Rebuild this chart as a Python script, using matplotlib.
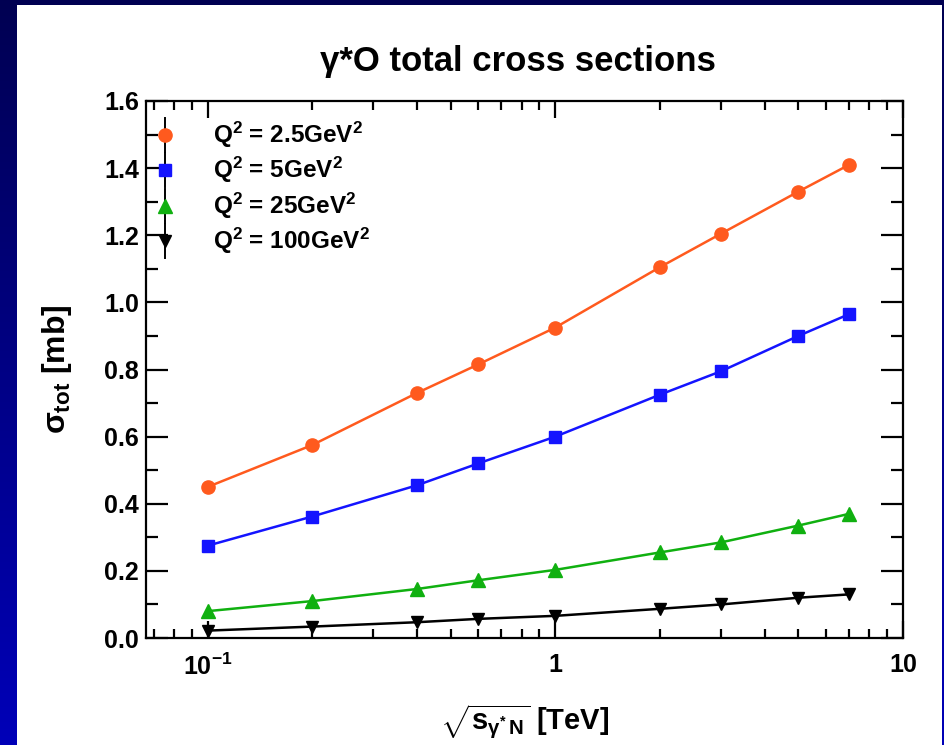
import numpy as np
import matplotlib
matplotlib.use("Agg")
import matplotlib.pyplot as plt
from matplotlib.ticker import FixedLocator, LogLocator, MultipleLocator, FuncFormatter, NullFormatter
from matplotlib.patches import Rectangle
from matplotlib.colors import LinearSegmentedColormap

plt.rcParams['font.family'] = ['Liberation Sans', 'DejaVu Sans']
plt.rcParams['mathtext.fontset'] = 'custom'
plt.rcParams['mathtext.rm'] = 'Liberation Sans:bold'
plt.rcParams['mathtext.it'] = 'Liberation Sans:bold'
plt.rcParams['mathtext.bf'] = 'Liberation Sans:bold'
plt.rcParams['mathtext.sf'] = 'Liberation Sans:bold'

# Centre-of-mass energies sqrt(s) [TeV]
sqrt_s = [0.1, 0.2, 0.4, 0.6, 1.0, 2.0, 3.0, 5.0, 7.0]

# Total cross sections [mb] for each virtuality
sigma_q2_2p5 = [0.450, 0.575, 0.730, 0.815, 0.925, 1.105, 1.205, 1.330, 1.410]
sigma_q2_5 = [0.275, 0.362, 0.455, 0.520, 0.600, 0.725, 0.795, 0.900, 0.965]
sigma_q2_25 = [0.080, 0.110, 0.146, 0.172, 0.203, 0.255, 0.285, 0.335, 0.370]
sigma_q2_100 = [0.022, 0.034, 0.047, 0.057, 0.066, 0.087, 0.100, 0.120, 0.130]

labels = [r"Q$^{2}$ = 2.5GeV$^{2}$", r"Q$^{2}$ = 5GeV$^{2}$",
          r"Q$^{2}$ = 25GeV$^{2}$", r"Q$^{2}$ = 100GeV$^{2}$"]
colors = ["#ff5a1e", "#1414ff", "#10b010", "#000000"]
markers = ["o", "s", "^", "v"]
msizes = [9.5, 9, 9.5, 9]
series = [sigma_q2_2p5, sigma_q2_5, sigma_q2_25, sigma_q2_100]

fig = plt.figure(figsize=(9.44, 7.45), dpi=100)

# slide background: blue vertical gradient with a white panel
bg = fig.add_axes([0, 0, 1, 1], zorder=-10)
grad = np.linspace(0, 1, 256).reshape(-1, 1)
cmap = LinearSegmentedColormap.from_list("slide", ["#000052", "#0000b8"])
bg.imshow(grad, aspect="auto", cmap=cmap, extent=[0, 1, 0, 1], origin="upper")
bg.add_patch(Rectangle((17 / 944, 0), (942 - 17) / 944, 740 / 745,
                       facecolor="white", edgecolor="none"))
bg.set_xlim(0, 1)
bg.set_ylim(0, 1)
bg.axis("off")

ax = fig.add_axes([146 / 944, 107 / 745, (903 - 146) / 944, (638 - 101) / 745])
ax.set_xscale("log")
ax.set_xlim(0.0665, 10)
ax.set_ylim(0, 1.6)

for ys, c, m, ms in zip(series, colors, markers, msizes):
    ax.plot(sqrt_s, ys, color=c, lw=1.8, marker=m, ms=ms, mec=c, mfc=c, zorder=3)

ax.xaxis.set_major_locator(FixedLocator([0.1, 1, 10]))
ax.xaxis.set_minor_locator(LogLocator(base=10, subs=np.arange(2, 10)))
ax.xaxis.set_minor_formatter(NullFormatter())

def xfmt(v, pos):
    if abs(v - 0.1) < 1e-9:
        return r"10$^{-1}$"
    if abs(v - 1) < 1e-9:
        return "1"
    return "10"

ax.xaxis.set_major_formatter(FuncFormatter(xfmt))
ax.yaxis.set_major_locator(MultipleLocator(0.2))
ax.yaxis.set_minor_locator(MultipleLocator(0.1))
ax.yaxis.set_major_formatter(FuncFormatter(lambda v, p: f"{v:.1f}"))

ax.tick_params(which="both", direction="in", top=True, right=True, width=1.6, colors="black")
ax.tick_params(which="major", labelsize=18)
ax.tick_params(axis="x", which="major", length=12, pad=11)
ax.tick_params(axis="x", which="minor", length=6.5)
ax.tick_params(axis="y", which="major", length=16, pad=5)
ax.tick_params(axis="y", which="minor", length=8.5)
for lbl in ax.get_xticklabels() + ax.get_yticklabels():
    lbl.set_fontweight("bold")
for sp in ax.spines.values():
    sp.set_linewidth(1.6)

ax.set_ylabel(r"$\sigma_{tot}$ [mb]", fontsize=23, fontweight="bold", labelpad=22)
ax.set_xlabel(r"$\sqrt{s_{\gamma^{*}\,N}}$ [TeV]", fontsize=21, fontweight="bold", labelpad=16)

fig.text(0.549, 0.917, "γ*O total cross sections", ha="center", va="center",
         fontsize=25, fontweight="bold")

# legend: marker with a vertical bar, followed by the label
lx, ly0, dy = 0.025, 0.937, 0.066
for i, (c, m, ms, lab) in enumerate(zip(colors, markers, msizes, labels)):
    yy = ly0 - i * dy
    ax.plot([lx, lx], [yy - 0.032, yy + 0.032], color="black", lw=1.4,
            transform=ax.transAxes, clip_on=False, zorder=4)
    ax.plot([lx], [yy], marker=m, ms=ms, color=c, mec=c,
            transform=ax.transAxes, clip_on=False, zorder=5)
    ax.text(lx + 0.063, yy, lab, transform=ax.transAxes, fontsize=17.5,
            fontweight="bold", va="center", ha="left")

fig.savefig("out.png", dpi=100)
